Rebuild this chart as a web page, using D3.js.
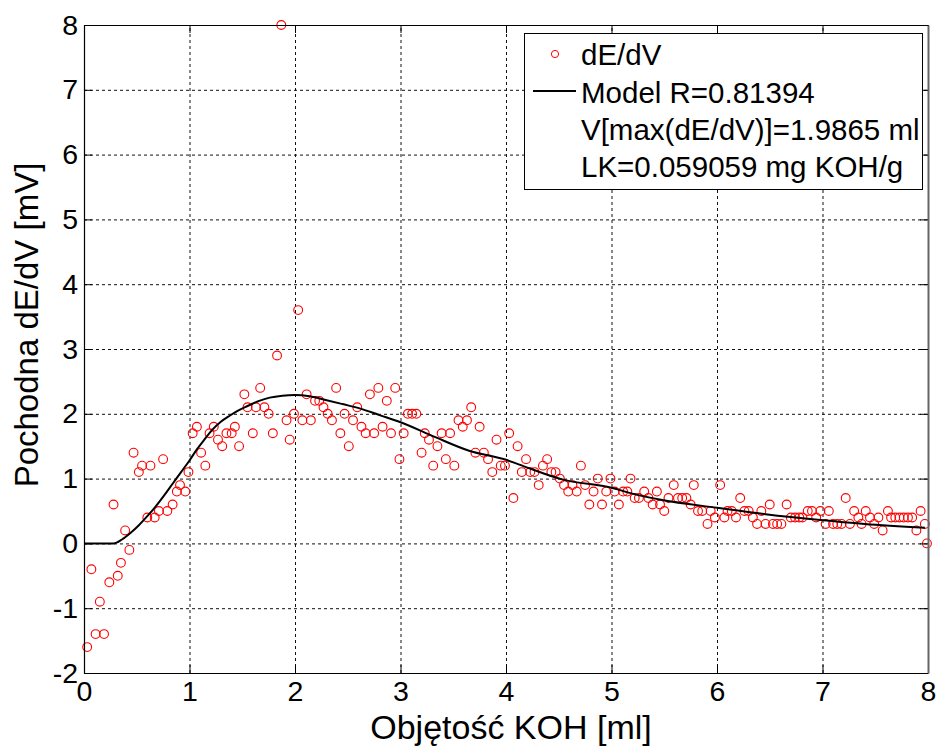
<!DOCTYPE html>
<html>
<head>
<meta charset="utf-8">
<script src="https://cdn.jsdelivr.net/npm/d3@7"></script>
<style>
  body { margin: 0; background: #fff; }
  svg { display: block; }
  text { font-family: "Liberation Sans", Arial, sans-serif; fill: #000; }
</style>
</head>
<body>
<svg id="chart" width="940" height="746"></svg>
<script>
// Measured titration derivative: KOH volume [ml] and dE/dV [mV]
const volume = [
  0.03, 0.07, 0.11, 0.15, 0.19, 0.24, 0.28, 0.32, 0.35, 0.39,
  0.43, 0.47, 0.52, 0.55, 0.60, 0.63, 0.67, 0.71, 0.75, 0.79,
  0.84, 0.88, 0.91, 0.96, 0.99, 1.03, 1.07, 1.11, 1.15, 1.19,
  1.23, 1.27, 1.31, 1.35, 1.40, 1.43, 1.47, 1.52, 1.55, 1.60,
  1.63, 1.67, 1.71, 1.75, 1.79, 1.83, 1.87, 1.92, 1.95, 1.99,
  2.03, 2.07, 2.11, 2.15, 2.19, 2.23, 2.27, 2.31, 2.35, 2.39,
  2.43, 2.47, 2.51, 2.55, 2.59, 2.63, 2.67, 2.71, 2.75, 2.79,
  2.83, 2.87, 2.91, 2.95, 2.99, 3.03, 3.07, 3.11, 3.15, 3.20,
  3.23, 3.27, 3.31, 3.35, 3.39, 3.43, 3.47, 3.51, 3.55, 3.59,
  3.63, 3.67, 3.71, 3.75, 3.79, 3.83, 3.87, 3.91, 3.95, 3.99,
  4.03, 4.07, 4.11, 4.15, 4.19, 4.23, 4.27, 4.31, 4.35, 4.39,
  4.43, 4.47, 4.51, 4.55, 4.59, 4.63, 4.67, 4.71, 4.75, 4.79,
  4.83, 4.87, 4.91, 4.95, 4.99, 5.03, 5.07, 5.11, 5.15, 5.18,
  5.22, 5.26, 5.31, 5.35, 5.39, 5.43, 5.46, 5.50, 5.54, 5.59,
  5.63, 5.67, 5.71, 5.75, 5.78, 5.82, 5.86, 5.91, 5.94, 5.98,
  6.03, 6.07, 6.10, 6.14, 6.18, 6.22, 6.26, 6.30, 6.34, 6.38,
  6.42, 6.46, 6.50, 6.53, 6.57, 6.61, 6.66, 6.70, 6.74, 6.78,
  6.81, 6.86, 6.90, 6.94, 6.98, 7.03, 7.06, 7.10, 7.14, 7.18,
  7.22, 7.26, 7.30, 7.34, 7.37, 7.41, 7.45, 7.49, 7.53, 7.57,
  7.62, 7.65, 7.69, 7.73, 7.77, 7.81, 7.85, 7.89, 7.93, 7.97,
  7.99
];
const derivative = [
  -1.6, -0.4, -1.4, -0.9, -1.4, -0.6, 0.6, -0.5, -0.3, 0.2,
  -0.1, 1.4, 1.1, 1.2, 0.4, 1.2, 0.4, 0.5, 1.3, 0.5,
  0.6, 0.8, 0.9, 0.8, 1.1, 1.7, 1.8, 1.4, 1.2, 1.7,
  1.8, 1.6, 1.5, 1.7, 1.7, 1.8, 1.5, 2.3, 2.1, 1.7,
  2.1, 2.4, 2.1, 2.0, 1.7, 2.9, 8.0, 1.9, 1.6, 2.0,
  3.6, 1.9, 2.3, 1.9, 2.2, 2.2, 2.1, 2.0, 1.9, 2.4,
  1.7, 2.0, 1.5, 1.9, 2.1, 1.8, 1.7, 2.3, 1.7, 2.4,
  1.8, 2.2, 1.7, 2.4, 1.3, 1.7, 2.0, 2.0, 2.0, 1.4,
  1.7, 1.6, 1.2, 1.5, 1.7, 1.3, 1.7, 1.2, 1.9, 1.8,
  1.9, 2.1, 1.4, 1.8, 1.4, 1.3, 1.1, 1.6, 1.2, 1.2,
  1.7, 0.7, 1.5, 1.1, 1.3, 1.1, 1.1, 0.9, 1.2, 1.3,
  1.1, 1.1, 1.0, 0.9, 0.8, 0.9, 0.8, 1.2, 0.9, 0.6,
  0.8, 1.0, 0.6, 0.8, 1.0, 0.8, 0.6, 0.8, 0.8, 1.0,
  0.7, 0.7, 0.8, 0.7, 0.6, 0.8, 0.6, 0.5, 0.7, 0.9,
  0.7, 0.7, 0.7, 0.6, 0.9, 0.5, 0.5, 0.3, 0.5, 0.4,
  0.9, 0.4, 0.5, 0.5, 0.4, 0.7, 0.5, 0.5, 0.4, 0.3,
  0.5, 0.3, 0.6, 0.3, 0.3, 0.3, 0.6, 0.4, 0.4, 0.4,
  0.4, 0.5, 0.5, 0.4, 0.5, 0.3, 0.5, 0.3, 0.3, 0.3,
  0.7, 0.3, 0.5, 0.4, 0.3, 0.5, 0.4, 0.3, 0.4, 0.2,
  0.5, 0.4, 0.4, 0.4, 0.4, 0.4, 0.4, 0.2, 0.5, 0.3,
  0.0
];

// Fitted model curve
const modelVolume = [
  0.00, 0.28, 0.36, 0.44, 0.52, 0.60, 0.68, 0.76, 0.84, 0.92,
  1.00, 1.07, 1.14, 1.22, 1.30, 1.38, 1.46, 1.55, 1.66, 1.76,
  1.88, 2.00, 2.14, 2.30, 2.45, 2.62, 2.80, 3.00, 3.33, 3.65,
  4.00, 4.12, 4.55, 5.00, 5.17, 5.48, 6.00, 6.46, 6.98, 7.40,
  7.97
];
const modelDerivative = [
  0.00, 0.00, 0.06, 0.16, 0.28, 0.42, 0.57, 0.74, 0.92, 1.10,
  1.28, 1.45, 1.60, 1.76, 1.88, 1.97, 2.05, 2.12, 2.20, 2.25,
  2.28, 2.29, 2.27, 2.21, 2.15, 2.08, 1.98, 1.87, 1.64, 1.43,
  1.29, 1.22, 0.98, 0.86, 0.78, 0.67, 0.55, 0.45, 0.36, 0.30,
  0.24
];

const xTicks = [0, 1, 2, 3, 4, 5, 6, 7, 8];
const yTicks = [-2, -1, 0, 1, 2, 3, 4, 5, 6, 7, 8];
const xLabel = "Objętość KOH [ml]";
const yLabel = "Pochodna dE/dV [mV]";
const legendLabels = ["dE/dV", "Model R=0.81394", "V[max(dE/dV)]=1.9865 ml", "LK=0.059059 mg KOH/g"];

const plot = { left: 84, right: 928, top: 25, bottom: 673 };
const svg = d3.select("#chart");

const x = d3.scaleLinear().domain([0, 8]).range([plot.left, plot.right]);
const y = d3.scaleLinear().domain([-2, 8]).range([plot.bottom, plot.top]);

const plotH = plot.bottom - plot.top;
const plotW = plot.right - plot.left;

// dotted grid
const grid = svg.append("g").attr("class", "grid");
grid.append("g")
  .attr("transform", `translate(0,${plot.bottom})`)
  .call(d3.axisBottom(x).tickValues(xTicks.slice(1, -1)).tickSize(-plotH).tickFormat(""));
grid.append("g")
  .attr("transform", `translate(${plot.left},0)`)
  .call(d3.axisLeft(y).tickValues(yTicks.slice(1, -1)).tickSize(-plotW).tickFormat(""));
grid.selectAll(".domain").remove();
grid.selectAll("line")
  .attr("stroke", "#111")
  .attr("stroke-width", 1)
  .attr("stroke-dasharray", "3,3");

// data markers
svg.append("g")
  .selectAll("circle")
  .data(volume.map((v, i) => [v, derivative[i]]))
  .join("circle")
  .attr("cx", d => x(d[0]))
  .attr("cy", d => y(d[1]))
  .attr("r", 4.4)
  .attr("fill", "none")
  .attr("stroke", "#ff0000")
  .attr("stroke-width", 1.1);

// model line
const line = d3.line().x(d => x(d[0])).y(d => y(d[1])).curve(d3.curveMonotoneX);
svg.append("path")
  .datum(modelVolume.map((v, i) => [v, modelDerivative[i]]))
  .attr("d", line)
  .attr("fill", "none")
  .attr("stroke", "#000")
  .attr("stroke-width", 2);

// axes with inward ticks; plain hyphen for negative labels
const tickFont = 28.5;
const fmt = d => String(d);
const axB = svg.append("g").attr("transform", `translate(0,${plot.bottom})`)
  .call(d3.axisBottom(x).tickValues(xTicks).tickSizeInner(-8).tickSizeOuter(0).tickPadding(8).tickFormat(fmt));
const axL = svg.append("g").attr("transform", `translate(${plot.left},0)`)
  .call(d3.axisLeft(y).tickValues(yTicks).tickSizeInner(-8).tickSizeOuter(0).tickPadding(6).tickFormat(fmt));
const axT = svg.append("g").attr("transform", `translate(0,${plot.top})`)
  .call(d3.axisTop(x).tickValues(xTicks).tickSizeInner(-8).tickSizeOuter(0).tickFormat(""));
const axR = svg.append("g").attr("transform", `translate(${plot.right},0)`)
  .call(d3.axisRight(y).tickValues(yTicks).tickSizeInner(-8).tickSizeOuter(0).tickFormat(""));
[axB, axL, axT, axR].forEach(g => {
  g.selectAll(".domain").attr("stroke", "#000").attr("stroke-width", 1.2);
  g.selectAll(".tick line").attr("stroke", "#000");
  g.selectAll("text").attr("font-size", tickFont).attr("font-family", "Liberation Sans, Arial, sans-serif").attr("fill", "#000");
});
axR.select(".domain").attr("stroke", "#666").attr("stroke-width", 2);

// axis titles
svg.append("text")
  .attr("x", 511)
  .attr("y", 739)
  .attr("text-anchor", "middle")
  .attr("font-size", 34)
  .text(xLabel);
svg.append("text")
  .attr("transform", `translate(38,325) rotate(-90)`)
  .attr("text-anchor", "middle")
  .attr("font-size", 33)
  .text(yLabel);

// legend
const lg = svg.append("g");
lg.append("rect")
  .attr("x", 524.5).attr("y", 33.5).attr("width", 398).attr("height", 156)
  .attr("fill", "#fff").attr("stroke", "#000").attr("stroke-width", 1);
const rowBase = [65, 103, 140, 177];
lg.selectAll("text.lbl")
  .data(legendLabels)
  .join("text")
  .attr("class", "lbl")
  .attr("x", 581)
  .attr("y", (d, i) => rowBase[i])
  .attr("font-size", 29.5)
  .text(d => d);
lg.append("circle")
  .attr("cx", 555).attr("cy", 54).attr("r", 3.6)
  .attr("fill", "none").attr("stroke", "#ff0000").attr("stroke-width", 1);
lg.append("line")
  .attr("x1", 533).attr("x2", 576).attr("y1", 91).attr("y2", 91)
  .attr("stroke", "#000").attr("stroke-width", 2);
</script>
</body>
</html>
